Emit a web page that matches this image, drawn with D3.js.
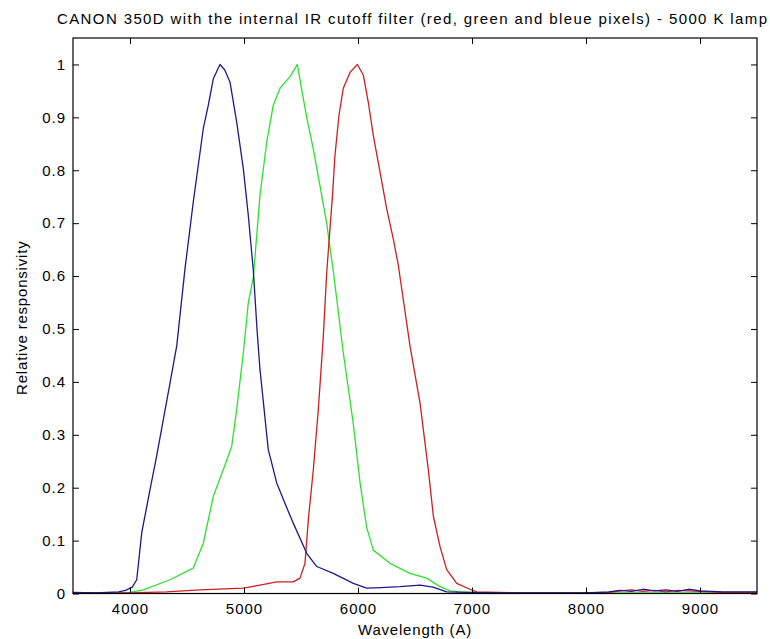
<!DOCTYPE html>
<html><head><meta charset="utf-8">
<script src="https://cdn.jsdelivr.net/npm/d3@7/dist/d3.min.js"></script>
<style>body{margin:0;background:#fff}svg text{font-family:"Liberation Sans",Arial,sans-serif;fill:#000}</style>
</head><body>
<svg id="c" width="770" height="639"></svg>
<script>
const titleText = "CANON 350D with the internal IR cutoff filter (red, green and bleue pixels) - 5000 K lamp";
const xLabel = "Wavelength (A)";
const yLabel = "Relative responsivity";
const xTicks = [4000,5000,6000,7000,8000,9000];
const yTicks = [0,0.1,0.2,0.3,0.4,0.5,0.6,0.7,0.8,0.9,1];

const blueX = [3500,3700,3900,3960,4020,4059,4103,4170,4234,4336,4410,4482,4555,4643,4687,4731,4789,4830,4877,4936,4994,5038,5082,5114,5140,5213,5287,5360,5432,5550,5638,5783,5959,6076,6200,6368,6544,6658,6778,6954,7200,7600,8000,8200,8300,8400,8500,8600,8700,8800,8900,9000,9200,9500];
const blueY = [0.002,0.001,0.003,0.006,0.012,0.026,0.115,0.19,0.26,0.38,0.468,0.613,0.74,0.879,0.923,0.973,1.0,0.99,0.967,0.891,0.803,0.714,0.61,0.5,0.424,0.272,0.209,0.17,0.133,0.076,0.051,0.038,0.019,0.01,0.011,0.013,0.016,0.012,0.003,0.002,0.001,0.001,0.001,0.003,0.006,0.004,0.008,0.005,0.007,0.004,0.008,0.005,0.003,0.003];

const greenX = [3500,3800,4000,4117,4351,4555,4643,4731,4818,4892,4936,4994,5038,5082,5140,5199,5257,5316,5404,5468,5500,5550,5608,5667,5725,5783,5871,5959,6018,6076,6134,6281,6456,6603,6719,6807,6895,7100,8000,9500];
const greenY = [0.001,0.001,0.002,0.007,0.026,0.048,0.095,0.184,0.234,0.278,0.348,0.455,0.55,0.598,0.752,0.853,0.923,0.955,0.977,1.0,0.96,0.9,0.84,0.77,0.70,0.61,0.455,0.32,0.209,0.125,0.082,0.057,0.038,0.029,0.013,0.005,0.003,0.001,0.001,0.001];

const redX = [3500,4000,4322,4614,4994,5140,5287,5432,5491,5535,5564,5608,5652,5696,5725,5776,5798,5833,5871,5930,5994,6047,6090,6134,6193,6252,6310,6354,6456,6544,6617,6661,6719,6778,6866,6982,7041,7400,8000,8200,8300,8400,8500,8600,8700,8800,8900,9000,9200,9500];
const redY = [0.001,0.001,0.003,0.007,0.01,0.016,0.022,0.022,0.029,0.057,0.139,0.234,0.348,0.487,0.605,0.752,0.828,0.904,0.955,0.985,1.0,0.98,0.929,0.866,0.797,0.727,0.67,0.62,0.468,0.36,0.234,0.146,0.089,0.045,0.019,0.008,0.003,0.001,0.001,0.002,0.005,0.007,0.004,0.006,0.003,0.006,0.005,0.004,0.002,0.002];

const series = [
  {x: greenX, y: greenY, color: "#2ee02e"},
  {x: redX, y: redY, color: "#cc1f1f"},
  {x: blueX, y: blueY, color: "#1a1a8a"}
];

const L = 73, R = 757, T = 38, B = 593.5;
const svg = d3.select("#c");
const x = d3.scaleLinear().domain([3500, 9500]).range([L, R]);
const y = d3.scaleLinear().domain([0, 1.05]).range([B, T]);

const line = d3.line().x(d => x(d[0])).y(d => y(d[1]));
series.forEach(s => {
  const pts = s.x.map((v, i) => [v, s.y[i]]);
  svg.append("path").attr("d", line(pts)).attr("fill", "none")
    .attr("stroke", s.color).attr("stroke-width", 1.3).attr("stroke-linejoin", "round");
});

const tl = 6;
// axes with inward ticks
const gB = svg.append("g").attr("transform", `translate(0,${B})`)
  .call(d3.axisBottom(x).tickValues(xTicks).tickSize(-tl).tickPadding(10).tickFormat(d3.format("d")));
const gT = svg.append("g").attr("transform", `translate(0,${T})`)
  .call(d3.axisTop(x).tickValues(xTicks).tickSize(-tl).tickFormat(""));
const gL = svg.append("g").attr("transform", `translate(${L},0)`)
  .call(d3.axisLeft(y).tickValues(yTicks).tickSize(-tl).tickPadding(7).tickFormat(d => d === 0 ? "0" : d === 1 ? "1" : d3.format(".1f")(d)));
const gR = svg.append("g").attr("transform", `translate(${R},0)`)
  .call(d3.axisRight(y).tickValues(yTicks).tickSize(-tl).tickFormat(""));
[gB, gT, gL, gR].forEach(g => {
  g.select(".domain").remove();
  g.selectAll("line").attr("stroke", "#000").attr("stroke-width", 1);
  g.selectAll("text").attr("font-size", 15).attr("font-family", '"Liberation Sans",Arial,sans-serif').attr("letter-spacing", 1).attr("fill", "#222");
});
gB.selectAll("text").attr("dy", "0.71em");
svg.append("rect").attr("x", L).attr("y", T).attr("width", R - L).attr("height", B - T)
  .attr("fill", "none").attr("stroke", "#000").attr("stroke-width", 1.2);

svg.append("text").attr("x", 57).attr("y", 24).attr("font-size", 15)
  .attr("textLength", 710).attr("lengthAdjust", "spacing").text(titleText);
svg.append("text").attr("x", (L + R) / 2).attr("y", 635).attr("text-anchor", "middle")
  .attr("font-size", 15).attr("letter-spacing", 0.8).text(xLabel);
svg.append("text").attr("transform", `translate(27,${(T + B) / 2 + 2}) rotate(-90)`)
  .attr("text-anchor", "middle").attr("font-size", 15).attr("letter-spacing", 0.8).text(yLabel);
</script>
</body></html>
